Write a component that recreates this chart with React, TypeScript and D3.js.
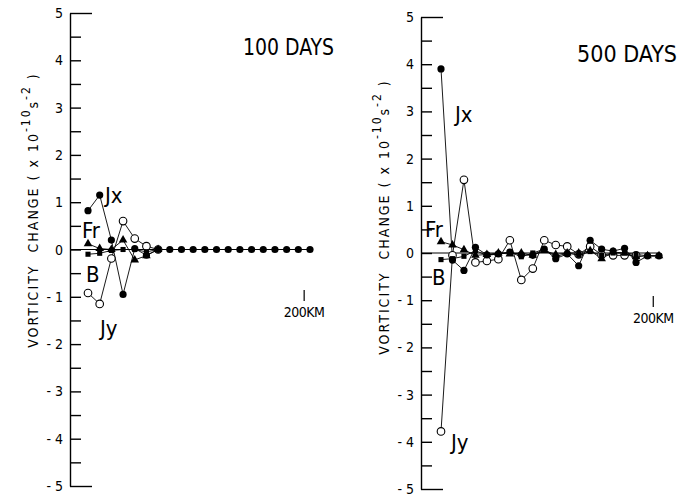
import React, { useRef, useEffect } from 'react';
import * as d3 from 'd3';

// distance along the section (km), shared by both panels
const distKm = [15, 25, 35, 45, 55, 65, 75, 85, 95, 105, 115, 125, 135, 145, 155, 165, 175, 185, 195, 205];

// 100 days
const jx100 = [0.82, 1.15, 0.2, -0.95, 0.02, -0.12, 0, 0, 0, 0, 0, 0, 0, 0, 0, 0, 0, 0, 0, 0];
const jy100 = [-0.92, -1.15, -0.19, 0.6, 0.23, 0.07, 0];
const fr100 = [0.12, 0.02, 0.0, 0.2, -0.22, -0.13, 0];
const b100 = [-0.1, -0.08, -0.02, 0.0, 0.0, -0.05, 0];

// 500 days
const jx500 = [3.9, -0.15, -0.37, 0.12, -0.04, -0.02, 0.02, -0.04, -0.05, 0.08, -0.12, -0.02, -0.27, 0.27, 0.08, 0.04, 0.1, -0.2, -0.06, -0.06];
const jy500 = [-3.78, -0.05, 1.55, -0.2, -0.17, -0.13, 0.27, -0.57, -0.33, 0.27, 0.17, 0.14, -0.03, 0.14, -0.04, -0.05, -0.05, -0.05];
const fr500 = [0.24, 0.17, 0.07, -0.05, -0.03, 0.0, -0.02, 0.0, -0.05, 0.05, -0.03, 0.0, 0.0, 0.05, -0.12, 0.02, 0.0, -0.08, -0.06, -0.06];
const b500 = [-0.14, -0.12, -0.07, 0.05, -0.05, -0.02, 0.02, -0.08, 0.0, 0.08, -0.08, 0.0, -0.05, 0.03, -0.05, 0.0, 0.0, -0.03, -0.06, -0.06];

const majorTicks = [5, 4, 3, 2, 1, 0, -1, -2, -3, -4, -5];
const minorTicks = [4.5, 3.5, 2.5, 1.5, 0.5, -0.5, -1.5, -2.5, -3.5, -4.5];
const markKm = 200;

const FONT = '"DejaVu Sans Condensed", "DejaVu Sans", sans-serif';
const INK = '#000';

type Series = { name: string; values: number[]; marker: 'filled' | 'open' | 'tri' | 'sq' };

type PanelProps = {
  title: string;
  axisX: number;
  top: number;
  bottom: number;
  firstX: number;
  lastX: number;
  series: Series[];
  labels: { text: string; x: number; y: number }[];
  titlePos: { x: number; y: number; w: number };
  axisLabel: { x: number; y: number };
  markY: number;
};

// y axis drawn with d3.axisRight through a ref
const YAxis = ({ x, y }: { x: number; y: d3.ScaleLinear<number, number> }) => {
  const ref = useRef<SVGGElement>(null);
  useEffect(() => {
    const g = d3.select(ref.current);
    g.selectAll('*').remove();
    g.call(
      d3
        .axisRight(y)
        .tickValues([...majorTicks, ...minorTicks])
        .tickSize(11)
        .tickSizeOuter(0)
        .tickFormat(() => '')
    );
    g.selectAll('.tick line')
      .attr('x2', (d: any) => (d === 5 || d === -5 ? 22 : 11))
      .attr('stroke', INK)
      .attr('stroke-width', 1.4);
    g.select('.domain').attr('stroke', INK).attr('stroke-width', 1.4);
  }, [y]);
  return <g ref={ref} transform={`translate(${x},0)`} />;
};

const Panel = (p: PanelProps) => {
  const x = d3.scaleLinear().domain([15, 205]).range([p.firstX, p.lastX]);
  const y = d3.scaleLinear().domain([-5, 5]).range([p.bottom, p.top]);
  const line = d3
    .line<number>()
    .x((_, i) => x(distKm[i]))
    .y((d) => y(d));
  const tri = d3.symbol().type(d3.symbolTriangle).size(32)();
  const sq = d3.symbol().type(d3.symbolSquare).size(26)();
  const order = ['open', 'tri', 'sq', 'filled'];
  const sorted = [...p.series].sort((a, b) => order.indexOf(a.marker) - order.indexOf(b.marker));

  return (
    <g>
      {majorTicks.map((t) => (
        <text
          key={'M' + t}
          x={p.axisX - 7}
          y={y(t)}
          dy="0.36em"
          textAnchor="end"
          fontFamily={FONT}
          fontSize={14}
          fill={INK}
        >
          {t < 0 ? '-\u00a0' + Math.abs(t) : String(t)}
        </text>
      ))}
      {/* zero line */}
      <path d={`M${p.axisX},${y(0)}H${p.lastX}`} fill="none" stroke={INK} strokeWidth={1} />

      {/* axis label */}
      <text
        transform={`translate(${p.axisLabel.x},${p.axisLabel.y}) rotate(-90)`}
        textAnchor="middle"
        fontFamily={FONT}
        fontSize={14}
        letterSpacing={2}
        fill={INK}
      >
        {'VORTICITY\u00a0\u00a0CHANGE\u00a0(\u00a0x\u00a010'}
        <tspan dy={-8} fontSize={12}>-10</tspan>
        <tspan dy={8}>s</tspan>
        <tspan dy={-8} fontSize={12}>-2</tspan>
        <tspan dy={8}>{'\u00a0)'}</tspan>
      </text>

      {/* series lines */}
      {sorted.map((s) => (
        <path key={'l' + s.name} d={line(s.values) || ''} fill="none" stroke={INK} strokeWidth={0.9} />
      ))}
      {/* markers */}
      {sorted.map((s) =>
        s.values.map((v, i) => {
          const cx = x(distKm[i]);
          const cy = y(v);
          if (s.marker === 'open')
            return <circle key={s.name + i} cx={cx} cy={cy} r={3.8} fill="#fff" stroke={INK} strokeWidth={1.1} />;
          if (s.marker === 'filled') return <circle key={s.name + i} cx={cx} cy={cy} r={3.6} fill={INK} />;
          if (s.marker === 'tri')
            return <path key={s.name + i} d={tri || ''} transform={`translate(${cx},${cy})`} fill={INK} />;
          return <path key={s.name + i} d={sq || ''} transform={`translate(${cx},${cy})`} fill={INK} />;
        })
      )}

      {/* series labels */}
      {p.labels.map((l) => (
        <text key={l.text} x={l.x} y={l.y} fontFamily={FONT} fontSize={22} fill={INK}>
          {l.text}
        </text>
      ))}

      {/* title */}
      <text
        x={p.titlePos.x}
        y={p.titlePos.y}
        fontFamily={FONT}
        fontSize={23}
        textLength={p.titlePos.w}
        lengthAdjust="spacingAndGlyphs"
        fill={INK}
      >
        {p.title}
      </text>

      {/* 200 km mark */}
      <path d={`M${x(markKm)},${p.markY}v11`} fill="none" stroke={INK} strokeWidth={1.2} />
      <text
        x={x(markKm)}
        y={p.markY + 27}
        textAnchor="middle"
        fontFamily={FONT}
        fontSize={14}
        letterSpacing={-0.5}
        fill={INK}
      >
        {markKm}KM
      </text>

      <YAxis x={p.axisX} y={y} />
    </g>
  );
};

export default function App() {
  return (
    <div style={{ position: 'absolute', left: 0, top: 0 }}>
      <svg width={687} height={499} style={{ display: 'block', background: '#fff' }}>
        <Panel
          title="100 DAYS"
          axisX={70}
          top={13}
          bottom={486}
          firstX={88}
          lastX={310}
          series={[
            { name: 'Jy', values: jy100, marker: 'open' },
            { name: 'Fr', values: fr100, marker: 'tri' },
            { name: 'B', values: b100, marker: 'sq' },
            { name: 'Jx', values: jx100, marker: 'filled' },
          ]}
          labels={[
            { text: 'Jx', x: 105, y: 203 },
            { text: 'Fr', x: 82, y: 238 },
            { text: 'B', x: 86, y: 282 },
            { text: 'Jy', x: 100, y: 336 },
          ]}
          titlePos={{ x: 243, y: 55, w: 91 }}
          axisLabel={{ x: 38, y: 210 }}
          markY={290}
        />
        <Panel
          title="500 DAYS"
          axisX={421}
          top={17}
          bottom={489}
          firstX={441}
          lastX={659}
          series={[
            { name: 'Jy', values: jy500, marker: 'open' },
            { name: 'Fr', values: fr500, marker: 'tri' },
            { name: 'B', values: b500, marker: 'sq' },
            { name: 'Jx', values: jx500, marker: 'filled' },
          ]}
          labels={[
            { text: 'Jx', x: 455, y: 122 },
            { text: 'Fr', x: 425, y: 237 },
            { text: 'B', x: 432, y: 285 },
            { text: 'Jy', x: 451, y: 450 },
          ]}
          titlePos={{ x: 577, y: 62, w: 100 }}
          axisLabel={{ x: 389, y: 217 }}
          markY={296}
        />
      </svg>
    </div>
  );
}
